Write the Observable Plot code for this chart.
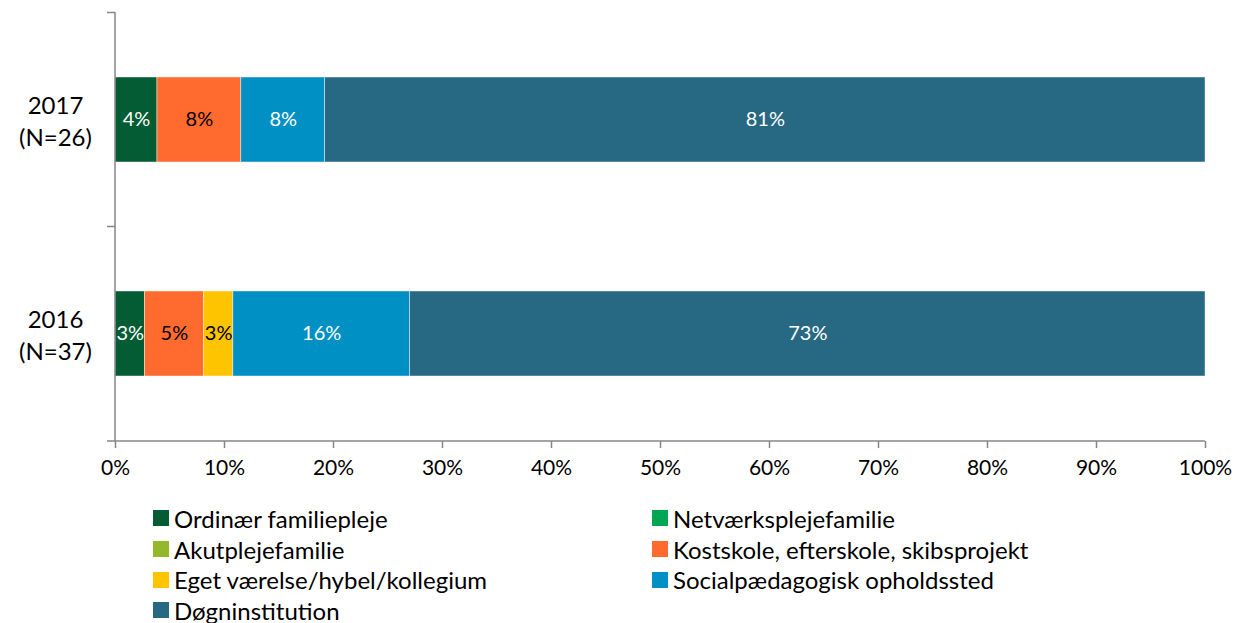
<!DOCTYPE html>
<html><head><meta charset="utf-8">
<script src="https://cdn.jsdelivr.net/npm/d3@7"></script>
<script src="https://cdn.jsdelivr.net/npm/@observablehq/plot@0.6"></script>
<style>
body{margin:0;background:#fff;font-family:Lato,sans-serif;}
#chart svg{display:block;}
#legend{display:grid;grid-template-columns:499px 500px;margin-left:153px;margin-top:8px;}
.item{display:flex;align-items:center;height:30.7px;font-size:24px;color:#000;white-space:nowrap;}
.sw{width:16px;height:16px;margin-right:5px;flex:none;}
</style></head><body><div id="chart"></div><div id="legend"></div>
<script>
const years = ["2017\n(N=26)", "2016\n(N=37)"];
const categories = ["Ordinær familiepleje", "Netværksplejefamilie", "Akutplejefamilie",
  "Kostskole, efterskole, skibsprojekt", "Eget værelse/hybel/kollegium",
  "Socialpædagogisk opholdssted", "Døgninstitution"];
const colors = ["#045c34", "#00a651", "#93b829", "#ff6b2e", "#ffc400", "#0090c4", "#276882"];
const labelColors = ["#fff", "#fff", "#000", "#000", "#000", "#fff", "#fff"];
const values2017 = [3.85, 0, 0, 7.69, 0, 7.69, 80.77];
const values2016 = [2.70, 0, 0, 5.41, 2.70, 16.22, 72.97];
const xTicks = [0, 10, 20, 30, 40, 50, 60, 70, 80, 90, 100];

const data = [];
[values2017, values2016].forEach((vals, i) => {
  vals.forEach((v, j) => {
    if (v > 0) data.push({year: years[i], cat: categories[j], value: v,
      label: Math.round(v) + "%", tc: labelColors[j]});
  });
});

const W = 1234, H = 495, mT = 12, mB = 54, mL = 115, mR = 29;
const gray = "#868686";

function axisLines(index, {x, y}, values, dims) {
  const g = d3.create("svg:g").attr("stroke", gray).attr("stroke-width", 1.5).attr("fill", "none");
  const y0 = y(years[0]), y1 = y(years[1]);
  const step = y1 - y0;
  const bw = typeof y.bandwidth === "function" ? y.bandwidth() : (y.bandwidth || step * 0.4);
  const off = (step - bw) / 2;
  const top = dims.marginTop, bottom = dims.height - dims.marginBottom;
  const x0 = x(0);
  g.append("line").attr("x1", x0).attr("x2", x0).attr("y1", top).attr("y2", bottom);
  g.append("line").attr("x1", x0 - 8).attr("x2", x(100)).attr("y1", bottom).attr("y2", bottom);
  [y0 - off, y1 - off].forEach(b => {
    g.append("line").attr("x1", x0 - 8).attr("x2", x0).attr("y1", b).attr("y2", b);
  });
  return g.node();
}

const plot = Plot.plot({
  width: W, height: H,
  marginTop: mT, marginBottom: mB, marginLeft: mL, marginRight: mR,
  style: {fontFamily: "Lato, sans-serif", background: "#fff"},
  x: {domain: [0, 100], label: null},
  y: {domain: years, paddingInner: 0.604, paddingOuter: 0.302, label: null},
  marks: [
    Plot.barX(data, Plot.stackX({x: "value", y: "year", fill: "cat", order: categories,
      stroke: "#fff", strokeOpacity: 0.55, strokeWidth: 0.8})),
    Plot.text(data, Plot.stackX({x: "value", y: "year", z: "cat", order: categories,
      text: "label", fill: "tc", fontSize: 20})),
    Plot.axisX({ticks: xTicks, tickFormat: d => d + "%", tickSize: 7, tickPadding: 12,
      stroke: gray, strokeWidth: 1.5, fontSize: 21, fill: "#000", label: null}),
    Plot.axisY({tickSize: 0, tickPadding: 60, textAnchor: "middle", fontSize: 24,
      lineHeight: 1.33, fill: "#000", label: null}),
    axisLines
  ],
  color: {domain: categories, range: colors}
});
document.getElementById("chart").appendChild(plot);

const legend = document.getElementById("legend");
categories.forEach((c, i) => {
  const it = document.createElement("div");
  it.className = "item";
  it.innerHTML = `<span class="sw" style="background:${colors[i]}"></span><span>${c}</span>`;
  legend.appendChild(it);
});
</script></body></html>
